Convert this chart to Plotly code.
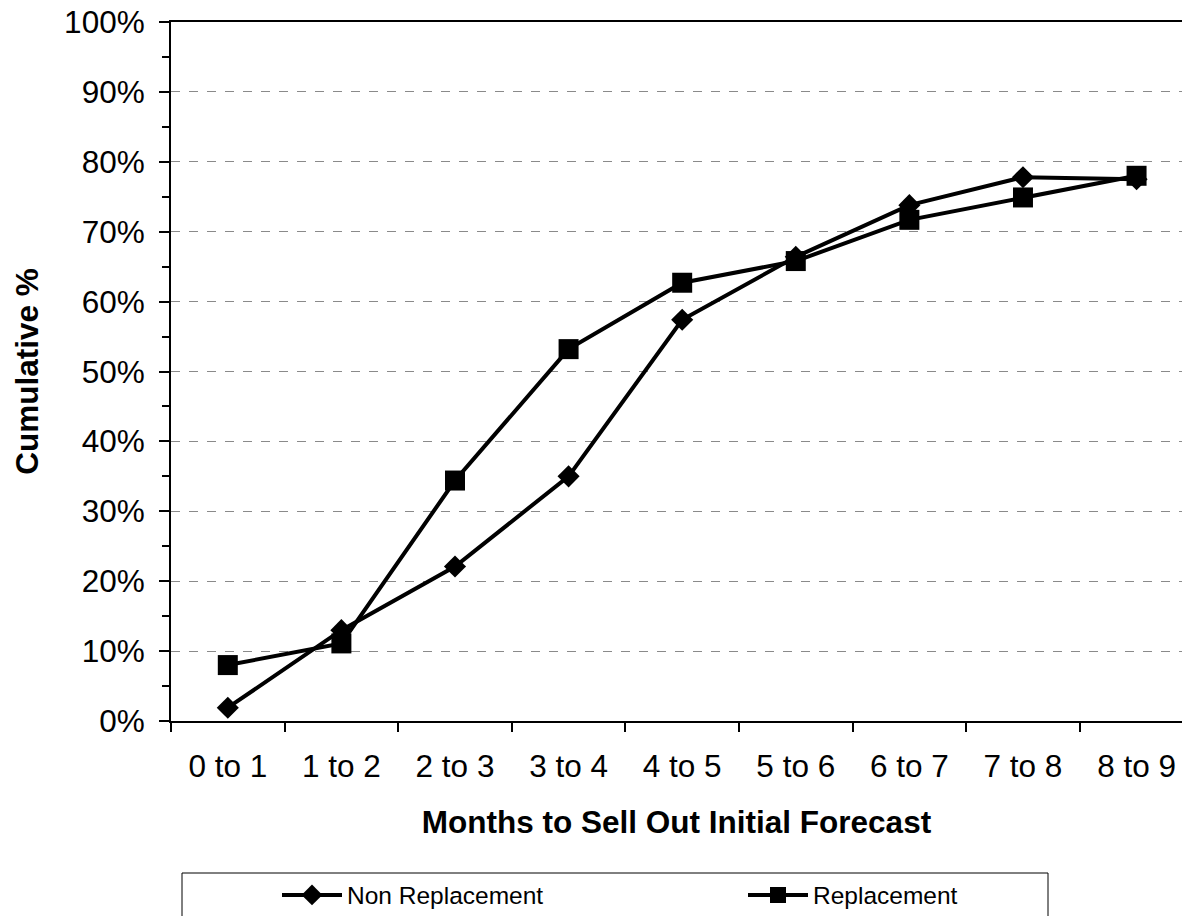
import plotly.graph_objects as go

categories = ["0 to 1", "1 to 2", "2 to 3", "3 to 4", "4 to 5", "5 to 6", "6 to 7", "7 to 8", "8 to 9"]
non_replacement = [0.019, 0.130, 0.221, 0.350, 0.574, 0.664, 0.738, 0.778, 0.775]
replacement = [0.080, 0.111, 0.344, 0.532, 0.627, 0.658, 0.717, 0.749, 0.780]

FONT = "Liberation Sans, Arial, sans-serif"

# plot area in page px: x 171..1182, y 22..721 (body margin removed)
fig = go.Figure()
fig.add_trace(go.Scatter(
    x=categories, y=non_replacement, name="Non Replacement", mode="lines+markers",
    line=dict(color="black", width=4),
    marker=dict(symbol="diamond", size=17, color="black"),
    legendwidth=391,
))
fig.add_trace(go.Scatter(
    x=categories, y=replacement, name="Replacement", mode="lines+markers",
    line=dict(color="black", width=4),
    marker=dict(symbol="square", size=20, color="black"),
    legendwidth=200,
))

# legend frame
fig.add_shape(type="rect", xref="paper", yref="paper",
              x0=(182 - 171) / 1011, x1=(1048 - 171) / 1011,
              y0=(721 - 960) / 699, y1=(721 - 873) / 699,
              line=dict(color="black", width=1), fillcolor="rgba(0,0,0,0)")

fig.update_layout(
    width=1182, height=916,
    margin=dict(l=171, r=0, t=22, b=195, autoexpand=False),
    paper_bgcolor="white", plot_bgcolor="white",
    font=dict(family=FONT, color="black", size=31.5),
    showlegend=True,
    legend=dict(
        orientation="h", x=(277 - 171) / 1011, xanchor="left",
        y=(721 - 895) / 699, yanchor="middle",
        font=dict(size=24.5, family=FONT), itemwidth=60,
        bgcolor="rgba(0,0,0,0)", borderwidth=0,
    ),
    xaxis=dict(
        type="category", range=[-0.5, 8.40],
        showline=True, linecolor="black", linewidth=2, mirror=True,
        ticks="outside", ticklen=9, tickwidth=1.5, tickcolor="black",
        tickson="boundaries", showgrid=False,
        tickfont=dict(size=31.5),
        ticklabelstandoff=16,
        ticklabeloverflow="allow",
        title=dict(text="<b>Months to Sell Out Initial Forecast</b>", font=dict(size=31.5), standoff=28),
    ),
    yaxis=dict(
        range=[0, 1], dtick=0.1, tickformat=".0%",
        showline=True, linecolor="black", linewidth=2,
        ticks="outside", ticklen=10, tickwidth=1.5, tickcolor="black",
        showgrid=True, gridcolor="#8a8a8a", gridwidth=1, griddash="dash",
        zeroline=False,
        minor=dict(ticks="outside", dtick=0.05, ticklen=7, tickwidth=1.5, tickcolor="black", showgrid=False),
        tickfont=dict(size=31.5),
        ticklabelstandoff=8,
        ticklabeloverflow="allow",
        title=dict(text="<b>Cumulative %</b>", font=dict(size=31.5), standoff=16),
    ),
)

fig.write_html("out.html", config={"displayModeBar": False},
               post_script="document.body.style.margin='0px';")
